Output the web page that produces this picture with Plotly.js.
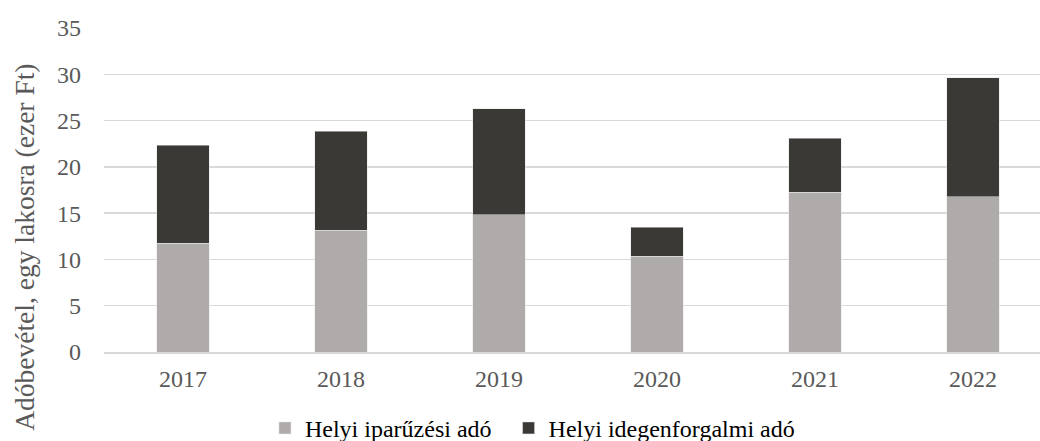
<!DOCTYPE html>
<html><head><meta charset="utf-8">
<script src="https://cdn.plot.ly/plotly-3.0.1.min.js"></script>
<style>html,body{margin:0;padding:0;overflow:hidden;background:#fff;width:1040px;height:441px}</style>
</head><body><div id="chart"></div>
<script>
const years = ['2017','2018','2019','2020','2021','2022'];
const iparuzesi = [11.73, 13.14, 14.83, 10.32, 17.25, 16.78];
const idegenforgalmi = [10.61, 10.71, 11.47, 3.18, 5.85, 12.82];
const seriesNames = ['Helyi iparűzési adó', 'Helyi idegenforgalmi adó'];
const yTitle = 'Adóbevétel, egy lakosra (ezer Ft)';
const font = 'Liberation Serif';
const traces = [
  {type:'bar', x:years, y:iparuzesi, name:seriesNames[0] + '\u00a0\u00a0', marker:{color:'#AFABAB', line:{color:'#e6e6e6', width:0.5}}},
  {type:'bar', x:years, y:idegenforgalmi, name:seriesNames[1], marker:{color:'#3B3936', line:{color:'#e6e6e6', width:0.5}}}
];
const layout = {
  width:1052, height:470, barmode:'stack', bargap:0.67,
  margin:{l:104, r:0, t:27.7, b:118.3},
  paper_bgcolor:'#fff', plot_bgcolor:'#fff',
  font:{family:font, size:24, color:'#595959'},
  xaxis:{showgrid:false, showline:true, linecolor:'#d9d9d9', linewidth:1.5, ticks:'', tickfont:{family:font, size:24, color:'#595959'}, ticklabelstandoff:5},
  yaxis:{range:[0,35], dtick:5, tick0:0, showgrid:true, gridcolor:'#d9d9d9', gridwidth:1.5, zeroline:false, showline:false, ticks:'', tickfont:{family:font, size:24, color:'#595959'}, ticklabelstandoff:22},
  annotations:[{text:yTitle, xref:'paper', yref:'paper', x:(25-104)/948, y:(351.7-247.5)/324, xanchor:'center', yanchor:'middle', textangle:-90, showarrow:false, font:{family:font, size:27.5, color:'#595959'}}],
  showlegend:true,
  legend:{orientation:'h', x:0.1698, xanchor:'left', y:-0.2355, yanchor:'middle', font:{family:font, size:24, color:'#000'}, traceorder:'normal'}
};
Plotly.newPlot('chart', traces, layout, {displayModeBar:false, staticPlot:true});
</script></body></html>
